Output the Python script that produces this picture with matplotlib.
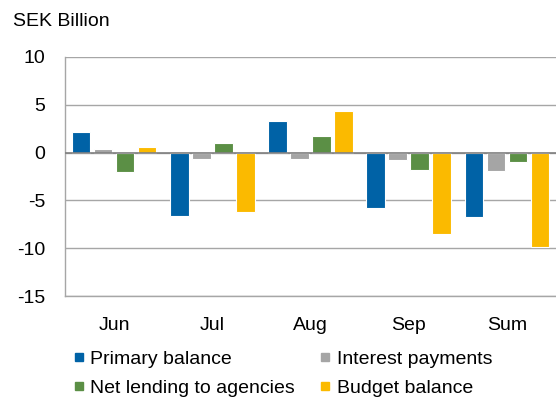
import matplotlib.pyplot as plt
import numpy as np
from matplotlib.lines import Line2D

plt.rcParams['font.family'] = ['Liberation Sans', 'DejaVu Sans']
plt.rcParams['axes.unicode_minus'] = False

months = ['Jun', 'Jul', 'Aug', 'Sep', 'Sum']
primary = [2.2, -6.6, 3.3, -5.75, -6.7]
interest = [0.4, -0.7, -0.7, -0.8, -1.9]
net_lending = [-2.0, 1.0, 1.7, -1.8, -1.0]
budget = [0.55, -6.25, 4.3, -8.5, -9.85]

series = [
    ('Primary balance', primary, '#0062a6'),
    ('Interest payments', interest, '#a5a5a5'),
    ('Net lending to agencies', net_lending, '#5b8f45'),
    ('Budget balance', budget, '#fbba00'),
]

fig = plt.figure(figsize=(5.56, 3.98), dpi=100)
ax = fig.add_axes([0.117, 0.256, 0.883, 0.601])

x = np.arange(len(months))
pitch = 0.224
width = 0.19
for i, (name, vals, color) in enumerate(series):
    ax.bar(x + (i - 1.5) * pitch, vals, width, color=color,
           edgecolor='white', linewidth=0.8, zorder=3)

ax.set_ylim(-15, 10)
ax.set_xlim(-0.5, len(months) - 0.5)
ax.set_yticks([-15, -10, -5, 0, 5, 10])
ax.yaxis.grid(True, color='#a6a6a6', linewidth=1.0, zorder=0)
ax.axhline(0, color='#808080', linewidth=1.2, zorder=4)

for side in ['top', 'right']:
    ax.spines[side].set_visible(False)
ax.spines['left'].set_color('#a6a6a6')
ax.spines['bottom'].set_color('#a6a6a6')
ax.spines['left'].set_linewidth(1.0)
ax.spines['bottom'].set_linewidth(1.0)

ax.set_xticks(x)
ax.set_xticklabels(months)
ax.tick_params(axis='both', length=0, labelsize=14, colors='black')
ax.tick_params(axis='y', pad=14)
ax.tick_params(axis='x', pad=15)

fig.text(0.023, 0.945, 'SEK Billion', fontsize=14, va='center', ha='left')

# legend fills row by row: primary / interest, then net lending / budget
order = [0, 2, 1, 3]
handles = [Line2D([], [], marker='s', linestyle='none', color=series[k][2],
                  markersize=6) for k in order]
labels = [series[k][0] for k in order]
fig.legend(handles, labels, ncol=2,
           loc='upper left', bbox_to_anchor=(0.133, 0.12),
           frameon=False, fontsize=14, handlelength=0.5,
           handletextpad=0.35, columnspacing=1.3, labelspacing=0.58,
           borderaxespad=0, borderpad=0)

fig.savefig('out.png', dpi=100)
